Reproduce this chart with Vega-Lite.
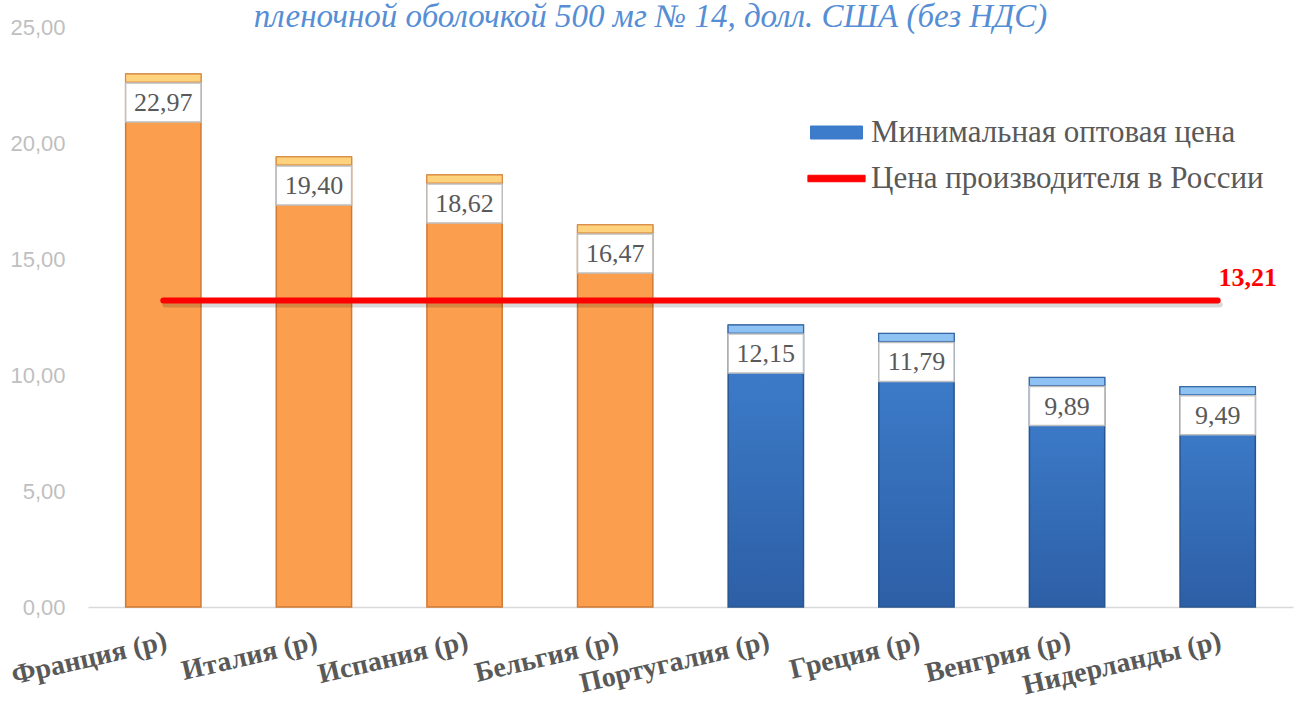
{
  "$schema": "https://vega.github.io/schema/vega-lite/v6.json",
  "width": 1205,
  "height": 580,
  "autosize": {"type": "none"},
  "padding": {"left": 88, "top": 27, "right": 2, "bottom": 97},
  "background": "white",
  "config": {
    "locale": {"number": {"decimal": ",", "thousands": " ", "grouping": [3], "currency": ["", ""]}},
    "view": {"stroke": null}
  },
  "title": {
    "text": "пленочной оболочкой 500 мг № 14, долл. США (без НДС)",
    "font": "Liberation Serif, Times New Roman, serif",
    "fontStyle": "italic",
    "fontWeight": "normal",
    "fontSize": 33,
    "color": "#558ED5",
    "anchor": "middle",
    "frame": "group",
    "dx": -40,
    "offset": 0,
    "dy": 44,
    "baseline": "alphabetic"
  },
  "data": {
    "values": [
      {"country": "Франция (р)", "price": 22.97, "group": "выше", "producer": 13.21},
      {"country": "Италия (р)", "price": 19.40, "group": "выше", "producer": 13.21},
      {"country": "Испания (р)", "price": 18.62, "group": "выше", "producer": 13.21},
      {"country": "Бельгия (р)", "price": 16.47, "group": "выше", "producer": 13.21},
      {"country": "Португалия (р)", "price": 12.15, "group": "ниже", "producer": 13.21},
      {"country": "Греция (р)", "price": 11.79, "group": "ниже", "producer": 13.21},
      {"country": "Венгрия (р)", "price": 9.89, "group": "ниже", "producer": 13.21},
      {"country": "Нидерланды (р)", "price": 9.49, "group": "ниже", "producer": 13.21}
    ]
  },
  "encoding": {
    "x": {
      "field": "country",
      "type": "nominal",
      "sort": null,
      "scale": {"paddingInner": 0.5, "paddingOuter": 0.25},
      "axis": {
        "title": null,
        "labelAngle": -13,
        "labelAlign": "right",
        "labelBaseline": "top",
        "labelFont": "Liberation Serif",
        "labelFontWeight": "bold",
        "labelFontSize": 28,
        "labelColor": "#595959",
        "labelPadding": 20,
        "labelOverlap": false,
        "labelLimit": 0,
        "ticks": false,
        "domain": true,
        "domainColor": "#D9D9D9",
        "domainWidth": 1.5
      }
    },
    "y": {
      "field": "price",
      "type": "quantitative",
      "scale": {"domain": [0, 25], "nice": false},
      "axis": {
        "title": null,
        "values": [0, 5, 10, 15, 20, 25],
        "format": ".2f",
        "labelFont": "Liberation Sans",
        "labelFontSize": 22,
        "labelColor": "#BFBFBF",
        "labelPadding": 23,
        "ticks": false,
        "domain": false,
        "grid": false
      }
    }
  },
  "layer": [
    {
      "transform": [{"filter": "datum.group === 'выше'"}],
      "mark": {"type": "bar", "strokeWidth": 1.5, "stroke": "#CF7A34", "fill": "#FB9E4E"}
    },
    {
      "transform": [{"filter": "datum.group === 'ниже'"}],
      "mark": {
        "type": "bar",
        "strokeWidth": 1.5,
        "stroke": "#27558F",
        "fill": {"gradient": "linear", "x1": 0, "y1": 0, "x2": 0, "y2": 1, "stops": [{"offset": 0, "color": "#3F80CF"}, {"offset": 1, "color": "#2D5FA6"}]}
      }
    },
    {
      "transform": [{"filter": "datum.group === 'выше'"}],
      "mark": {"type": "bar", "y2Offset": 8, "strokeWidth": 1, "fill": "#FFD27E", "stroke": "#D88A3E"},
      "encoding": {"y2": {"field": "price"}}
    },
    {
      "transform": [{"filter": "datum.group === 'ниже'"}],
      "mark": {"type": "bar", "y2Offset": 8, "strokeWidth": 1, "fill": "#8EC2F2", "stroke": "#3467A8"},
      "encoding": {"y2": {"field": "price"}}
    },
    {
      "mark": {"type": "bar", "fill": "white", "stroke": "#BFBFBF", "strokeWidth": 1.5, "yOffset": 9, "y2Offset": 48},
      "encoding": {"y2": {"field": "price"}}
    },
    {
      "mark": {"type": "text", "yOffset": 29, "baseline": "middle", "align": "center", "font": "Liberation Serif", "fontSize": 26, "color": "#595959"},
      "encoding": {
        "text": {"field": "price", "type": "quantitative", "format": ".2f"}
      }
    },
    {
      "mark": {"type": "line", "strokeWidth": 6, "strokeCap": "round", "yOffset": 4, "xOffset": 2, "color": "#000000", "opacity": 0.15},
      "encoding": {
        "y": {"field": "producer", "type": "quantitative"}
      }
    },
    {
      "mark": {"type": "line", "strokeWidth": 6, "strokeCap": "round"},
      "encoding": {
        "y": {"field": "producer", "type": "quantitative"},
        "color": {
          "datum": "Цена производителя в России",
          "type": "nominal",
          "scale": {"domain": ["Минимальная оптовая цена", "Цена производителя в России"], "range": ["#3D7BCB", "#FF0000"]},
          "legend": {
            "orient": "none",
            "legendX": 733,
            "legendY": 90,
            "title": null,
            "direction": "vertical",
            "padding": 0,
            "symbolType": "M-2,-0.5H2V0.5H-2Z",
            "symbolSize": 676,
            "labelFont": "Liberation Serif",
            "labelFontSize": 31,
            "labelColor": "#595959",
            "labelOffset": 19,
            "labelLimit": 0,
            "rowPadding": 14,
            "encode": {
              "symbols": {
                "update": {
                  "shape": {"signal": "datum.value === 'Цена производителя в России' ? 'M-2.2,-0.25H2.2V0.25H-2.2Z' : 'M-2,-0.5H2V0.5H-2Z'"},
                  "fill": {"scale": "color", "field": "value"},
                  "stroke": {"signal": "datum.value === 'Цена производителя в России' ? '#FF0000' : '#2C5C99'"},
                  "strokeWidth": {"value": 1},
                  "opacity": {"value": 1},
                  "fillOpacity": {"value": 1}
                }
              }
            }
          }
        }
      }
    },
    {
      "transform": [{"filter": "datum.country === 'Нидерланды (р)'"}],
      "mark": {"type": "text", "dx": 30, "dy": -23, "align": "center", "baseline": "middle", "font": "Liberation Serif", "fontWeight": "bold", "fontSize": 26, "color": "#FF0000"},
      "encoding": {
        "y": {"field": "producer", "type": "quantitative"},
        "text": {"field": "producer", "type": "quantitative", "format": ".2f"}
      }
    }
  ]
}
